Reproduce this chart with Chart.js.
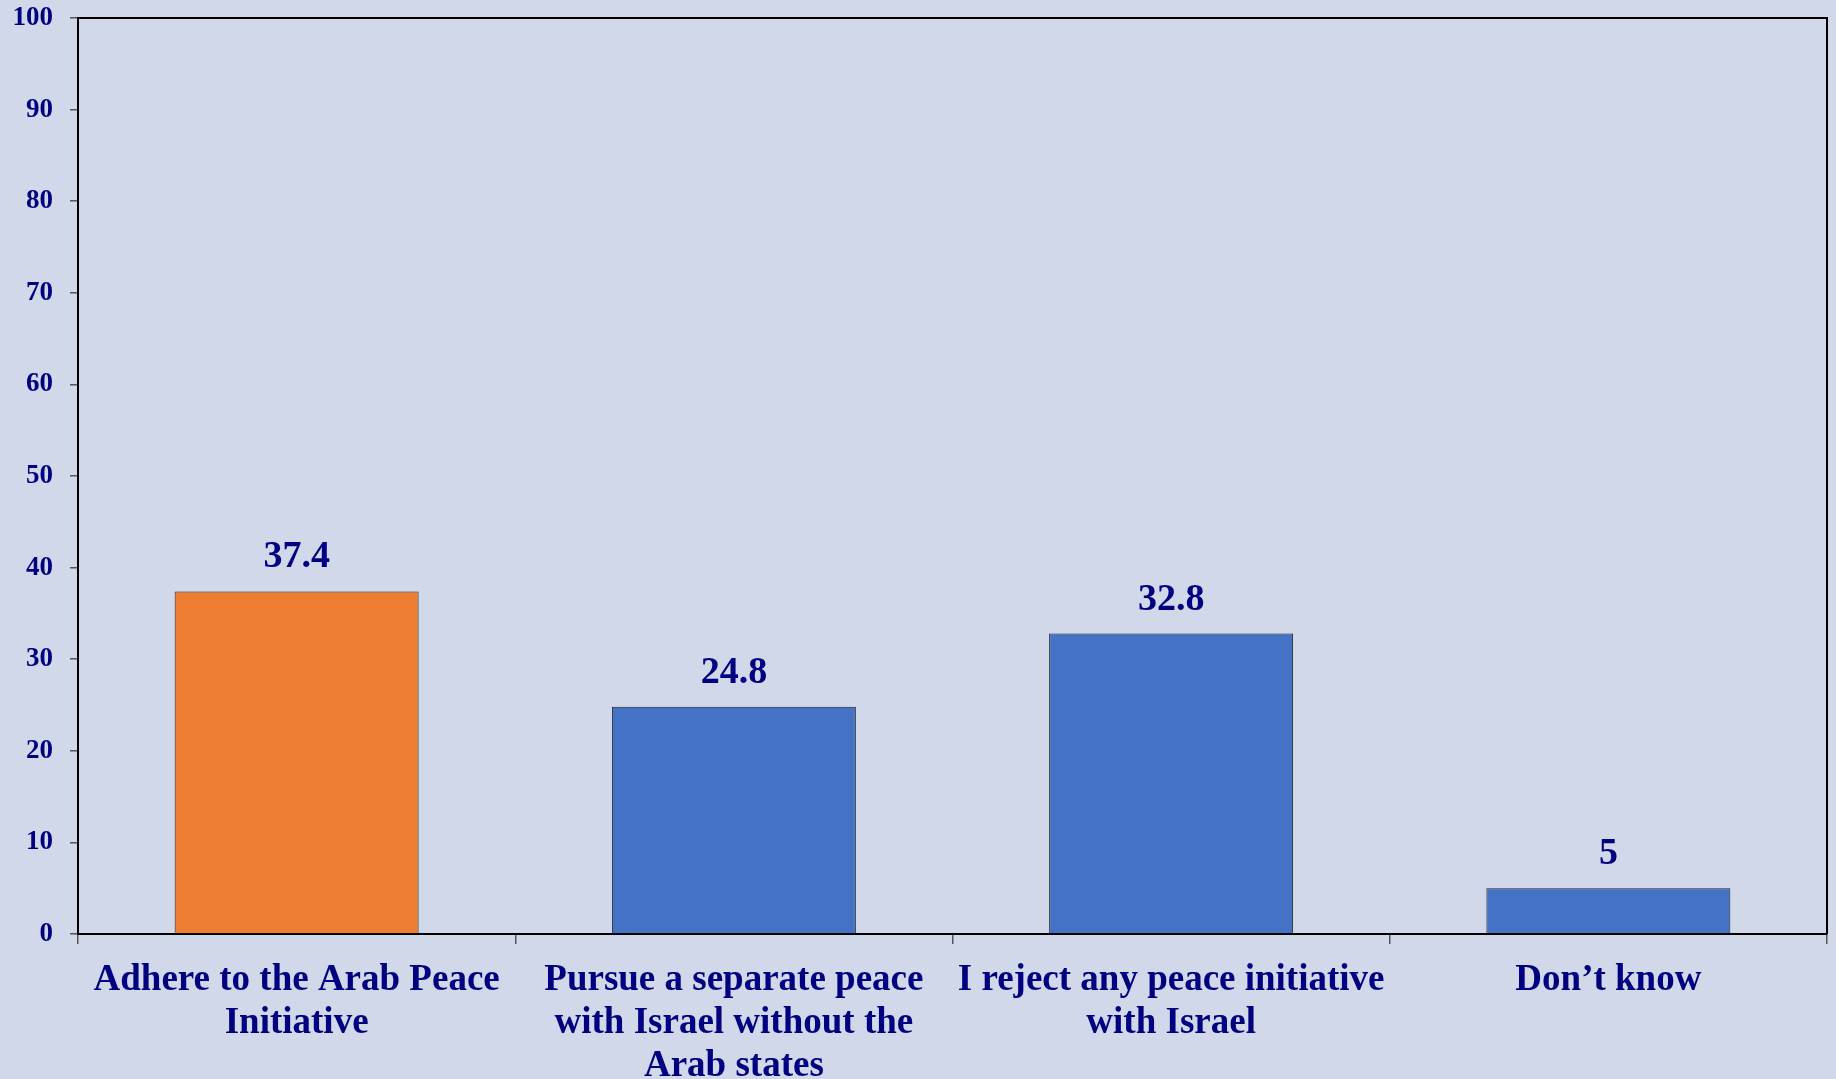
<!DOCTYPE html>
<html>
<head>
<meta charset="utf-8">
<script src="https://cdn.jsdelivr.net/npm/chart.js@4/dist/chart.umd.min.js"></script>
<style>
  html, body { margin: 0; padding: 0; background: #D1D8EA; }
  #wrap { width: 1836px; height: 1079px; }
</style>
</head>
<body>
<div id="wrap"><canvas id="c" width="1836" height="1079"></canvas></div>
<script>
const categories = [
  ["Adhere to the Arab Peace", "Initiative"],
  ["Pursue a separate peace", "with Israel without the", "Arab states"],
  ["I reject any peace initiative", "with Israel"],
  ["Don\u2019t know"]
];
const values = [37.4, 24.8, 32.8, 5];
const yTicks = [0, 10, 20, 30, 40, 50, 60, 70, 80, 90, 100];
const barColors = ["#ED7D31", "#4472C4", "#4472C4", "#4472C4"];

const navy = "#000080";
const serif = "'Liberation Serif', 'Times New Roman', serif";

const boxPlugin = {
  id: 'box',
  afterDraw(chart) {
    const a = chart.chartArea, ctx = chart.ctx;
    ctx.save();
    ctx.strokeStyle = '#000';
    ctx.lineWidth = 2;
    ctx.beginPath();
    ctx.moveTo(a.left, a.top);
    ctx.lineTo(a.right, a.top);
    ctx.lineTo(a.right, a.bottom);
    ctx.stroke();
    ctx.restore();
  }
};

const labelPlugin = {
  id: 'valueLabels',
  afterDatasetsDraw(chart) {
    const ctx = chart.ctx;
    const meta = chart.getDatasetMeta(0);
    ctx.save();
    ctx.fillStyle = navy;
    ctx.font = "bold 38px " + serif;
    ctx.textAlign = 'center';
    ctx.textBaseline = 'alphabetic';
    meta.data.forEach((bar, i) => {
      ctx.fillText(String(values[i]), bar.x, bar.y - 24);
    });
    ctx.restore();
  }
};

new Chart(document.getElementById('c'), {
  type: 'bar',
  data: {
    labels: categories,
    datasets: [{
      data: values,
      backgroundColor: barColors,
      borderColor: '#222',
      borderWidth: 1,
      barPercentage: 0.558,
      categoryPercentage: 1.0
    }]
  },
  plugins: [boxPlugin, labelPlugin],
  options: {
    responsive: false,
    animation: false,
    layout: { padding: { top: 18, right: 9, left: 0, bottom: 0 } },
    plugins: { legend: { display: false }, tooltip: { enabled: false } },
    scales: {
      x: {
        offset: true,
        grid: { offset: true, drawOnChartArea: false, drawTicks: true, tickLength: 10, color: '#555', lineWidth: 1.5 },
        border: { display: true, color: '#000', width: 2 },
        ticks: {
          color: navy,
          font: { family: serif, size: 37, weight: 'bold', lineHeight: 1.16 },
          padding: 15,
          maxRotation: 0,
          autoSkip: false
        },
        afterFit(scale) { scale.height = 145; scale.paddingLeft = 0; scale.paddingRight = 0; }
      },
      y: {
        min: 0, max: 100,
        afterBuildTicks(scale) { scale.ticks = yTicks.map(v => ({ value: v })); },
        grid: { drawOnChartArea: false, drawTicks: true, tickLength: 8, color: '#555', lineWidth: 1.5 },
        border: { display: true, color: '#000', width: 2 },
        ticks: {
          color: navy,
          font: { family: serif, size: 27, weight: 'bold' },
          padding: 17
        },
        afterFit(scale) { scale.width = 78; scale.paddingTop = 0; scale.paddingBottom = 0; }
      }
    }
  }
});
</script>
</body>
</html>
